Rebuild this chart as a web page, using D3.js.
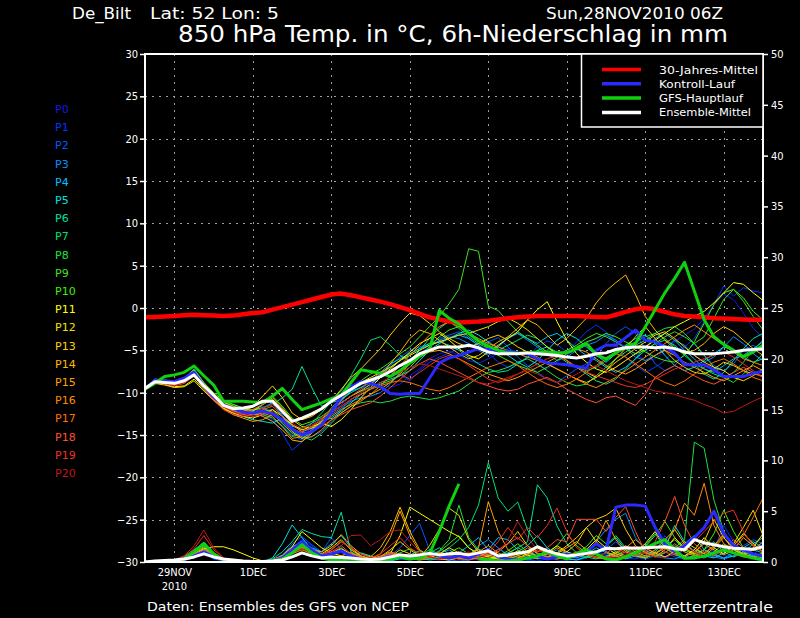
<!DOCTYPE html>
<html lang='en'>
<head>
<meta charset='utf-8'>
<title>De_Bilt GFS Ensemble</title>
<script src="https://d3js.org/d3.v7.min.js"></script>
<style type="text/css">
  body { margin: 0; background: #000; }
  svg { display: block; background: #000; }
  text { font-family: "DejaVu Sans", sans-serif; fill: #fff; }
  .small { font-family: "DejaVu Sans Condensed", "Liberation Sans Narrow", sans-serif; font-size: 11px; }
  .label { font-family: "DejaVu Sans", sans-serif; font-size: 11px; }
</style>
</head>
<body>
<script type='text/javascript'>
// forecast hours of the run 28NOV2010 06Z, every 6 h
var hours = d3.range(0, 379, 6);
var tickHours = [18, 66, 114, 162, 210, 258, 306, 354];
var tickLabels = ["29NOV", "1DEC", "3DEC", "5DEC", "7DEC", "9DEC", "11DEC", "13DEC"];

var memberNames = d3.range(0, 21).map(function(i) { return "P" + i; });
var memberColors = ["#1818e0", "#0034ff", "#0058ff", "#0090ff", "#00c0ff", "#00e0e0", "#00e0a0",
                    "#00e070", "#20e040", "#40e020", "#40f000", "#ffff00", "#f0e000", "#ffd000",
                    "#ffb800", "#ffa000", "#ff8c00", "#ff7000", "#ff5030", "#f03020", "#c01818"];

// 850 hPa temperature (deg C)
var climTemp = [-1.1,-1.05,-1.0,-0.95,-0.85,-0.8,-0.85,-0.9,
  -0.95,-0.9,-0.75,-0.6,-0.5,-0.2,0.1,0.4,
  0.7,1.0,1.3,1.6,1.7,1.5,1.25,1.0,
  0.75,0.45,0.1,-0.25,-0.7,-1.1,-1.35,-1.6,
  -1.7,-1.65,-1.6,-1.5,-1.35,-1.2,-1.1,-1.0,
  -0.95,-0.95,-0.95,-0.95,-0.95,-1.0,-1.05,-1.1,
  -0.8,-0.45,-0.15,0.0,-0.15,-0.45,-0.75,-0.95,
  -1.0,-1.1,-1.2,-1.25,-1.3,-1.35,-1.4,-1.4];

var meanTemp = [-9.5,-8.7,-8.8,-8.9,-8.6,-7.9,-9.2,-10.3,
  -11.5,-11.9,-11.8,-11.6,-11.0,-11.0,-12.2,-13.4,
  -13.0,-12.5,-11.9,-11.0,-10.3,-9.6,-8.9,-8.5,
  -8.1,-7.5,-6.8,-6.2,-5.4,-5.0,-4.6,-4.6,
  -4.6,-4.4,-4.7,-5.2,-5.4,-5.4,-5.4,-5.3,
  -5.4,-5.5,-5.6,-5.8,-5.9,-5.7,-5.4,-5.3,
  -4.9,-4.7,-4.6,-4.6,-4.7,-4.6,-4.8,-5.2,
  -5.4,-5.4,-5.4,-5.3,-5.2,-5.0,-4.9,-4.85];

var controlTemp = [-9.6,-8.5,-8.6,-8.7,-8.3,-7.6,-9.2,-10.5,
  -11.4,-11.9,-12.3,-12.4,-12.2,-12.5,-13.2,-14.3,
  -15.0,-14.6,-13.8,-12.3,-10.5,-9.3,-8.7,-8.9,
  -9.3,-10.1,-10.2,-10.1,-10.1,-8.3,-6.5,-5.9,
  -5.6,-5.2,-4.8,-4.9,-5.0,-5.1,-5.3,-5.4,
  -6.0,-6.5,-6.6,-6.7,-6.9,-7.1,-5.0,-4.4,
  -4.4,-3.5,-2.6,-3.8,-4.0,-4.6,-5.35,-6.7,
  -6.7,-6.7,-7.3,-8.1,-8.1,-8.1,-7.7,-7.5];

var gfsTemp = [-9.6,-8.9,-8.1,-7.9,-7.6,-6.85,-8.0,-9.1,
  -11.0,-11.0,-11.0,-11.1,-11.2,-10.4,-9.5,-10.8,
  -12.0,-11.6,-11.2,-10.7,-10.3,-8.8,-7.3,-7.5,
  -7.7,-8.1,-7.4,-6.5,-5.7,-5.0,-0.3,-1.2,
  -1.9,-3.0,-3.9,-4.5,-5.0,-5.3,-5.35,-5.3,
  -5.2,-5.2,-5.3,-5.3,-4.8,-4.2,-5.5,-6.0,
  -5.3,-4.6,-4.2,-2.2,-0.2,1.8,3.5,5.4,
  2.0,-1.4,-3.4,-4.3,-5.0,-5.75,-5.2,-4.4];

var memberTemp = [
  [-9.6,-8.7,-8.8,-9.0,-8.6,-7.8,-9.2,-10.4, -11.3,-11.8,-12.0,-12.3,-12.0,-12.6,-13.4,-14.2,
   -14.8,-14.3,-13.6,-12.2,-11.0,-9.8,-9.0,-8.5, -8.8,-9.4,-9.0,-8.0,-7.2,-6.0,-5.4,-5.1,
   -5.6,-6.2,-6.5,-6.0,-5.4,-4.8,-5.2,-6.0, -6.8,-7.2,-6.4,-5.5,-4.9,-4.2,-3.5,-3.0,
   -3.8,-4.6,-5.4,-6.2,-6.0,-5.1,-4.0,-3.2, -2.5,-1.2,0.4,1.6,1.0,-0.6,-2.4,-3.5],
  [-9.6,-8.5,-8.6,-8.8,-8.4,-7.4,-9.0,-10.6, -11.6,-12.1,-12.4,-12.8,-12.6,-13.2,-14.8,-16.8,
   -15.8,-14.6,-13.6,-12.4,-11.4,-10.4,-9.6,-9.0, -8.2,-7.6,-7.9,-8.6,-7.4,-6.4,-5.8,-5.3,
   -4.8,-4.2,-4.6,-5.3,-6.4,-7.0,-6.6,-5.8, -4.6,-3.9,-4.3,-5.2,-4.0,-2.8,-2.0,-2.8,
   -4.4,-5.8,-6.8,-7.6,-7.0,-6.2,-5.0,-4.6, -3.6,-1.6,0.4,2.6,1.4,2.4,2.0,1.8],
  [-9.6,-8.8,-8.9,-9.1,-8.8,-8.0,-9.4,-10.6, -11.5,-12.0,-12.3,-12.1,-11.6,-12.4,-13.8,-15.0,
   -15.6,-15.2,-14.6,-13.4,-12.0,-10.8,-10.0,-9.2, -8.0,-6.8,-5.8,-5.0,-4.6,-4.2,-3.6,-3.2,
   -2.8,-3.6,-4.4,-4.0,-3.5,-4.6,-5.8,-6.8, -7.6,-8.4,-8.8,-8.0,-7.2,-6.6,-5.8,-4.2,
   -3.0,-2.2,-3.0,-4.8,-6.6,-7.4,-6.8,-5.4, -4.2,-5.6,-6.8,-7.4,-6.6,-5.0,-4.4,-5.2],
  [-9.6,-8.6,-8.7,-8.8,-8.5,-7.6,-9.1,-10.3, -11.2,-11.6,-11.9,-12.0,-11.4,-10.8,-12.6,-14.6,
   -15.4,-14.8,-13.8,-12.6,-11.8,-11.0,-10.6,-10.4, -10.0,-9.0,-7.6,-6.4,-5.4,-4.6,-3.8,-3.4,
   -3.6,-4.2,-5.0,-5.6,-4.6,-3.6,-3.0,-3.8, -4.6,-5.4,-6.2,-5.8,-5.0,-4.4,-4.0,-3.2,
   -3.8,-4.8,-5.8,-6.2,-5.6,-4.8,-3.8,-4.4, -5.6,-6.4,-5.8,-4.6,-3.4,-4.2,-5.4,-6.2],
  [-9.6,-8.4,-8.5,-8.7,-8.3,-7.2,-8.8,-10.2, -11.4,-12.2,-12.6,-12.4,-11.8,-11.2,-12.8,-14.0,
   -14.2,-13.6,-13.0,-12.4,-11.0,-9.8,-9.4,-8.6, -7.6,-6.6,-6.0,-5.4,-4.8,-4.4,-4.0,-3.6,
   -3.2,-3.6,-4.4,-5.2,-4.6,-3.4,-3.0,-3.6, -4.2,-3.4,-3.0,-3.8,-4.8,-5.6,-6.2,-7.0,
   -7.6,-7.0,-6.0,-4.6,-3.6,-3.0,-3.8,-5.0, -6.0,-7.2,-7.6,-6.8,-6.0,-5.6,-4.8,-4.0],
  [-9.6,-8.6,-8.6,-8.9,-8.7,-7.8,-9.4,-10.8, -11.8,-12.4,-12.8,-13.2,-13.4,-13.6,-13.0,-13.8,
   -14.6,-14.2,-13.4,-13.0,-12.2,-11.2,-10.2,-9.6, -8.8,-8.4,-8.0,-7.4,-6.2,-5.0,-4.2,-3.6,
   -3.0,-2.6,-3.2,-4.0,-4.8,-5.6,-6.4,-7.0, -6.2,-5.0,-3.8,-3.0,-3.6,-4.6,-5.6,-6.4,
   -5.4,-4.4,-3.6,-3.2,-4.2,-5.6,-6.8,-7.4, -7.0,-6.2,-5.4,-4.6,-5.0,-5.8,-6.4,-6.0],
  [-9.6,-8.5,-8.6,-8.8,-8.5,-7.6,-9.0,-10.4, -11.3,-11.8,-12.0,-12.1,-11.8,-11.4,-10.6,-9.6,
   -6.9,-9.4,-11.6,-11.2,-10.8,-10.0,-9.4,-8.8, -8.0,-7.0,-6.2,-5.4,-4.8,-4.2,-4.0,-4.4,
   -5.0,-5.8,-6.6,-7.2,-7.6,-7.4,-6.6,-5.8, -5.0,-4.6,-5.2,-6.2,-7.0,-7.8,-8.6,-9.0,
   -8.4,-7.2,-6.0,-5.0,-4.2,-3.8,-4.4,-5.4, -6.6,-7.8,-8.4,-7.6,-6.2,-4.8,-3.6,-3.0],
  [-9.6,-8.5,-8.6,-8.8,-8.4,-7.5,-8.9,-10.2, -11.0,-11.4,-11.8,-12.2,-12.6,-13.0,-14.0,-15.2,
   -14.8,-13.6,-12.4,-11.0,-9.8,-8.0,-6.0,-3.8, -3.4,-4.4,-5.6,-6.2,-5.0,-3.6,-2.4,-1.6,
   -2.4,-3.4,-4.2,-4.8,-5.0,-4.4,-3.8,-3.2, -3.6,-4.6,-5.6,-6.4,-7.0,-7.4,-7.0,-6.2,
   -5.4,-4.6,-4.0,-3.4,-3.0,-3.6,-4.6,-5.6, -6.6,-7.2,-7.8,-8.2,-7.6,-6.4,-5.0,-3.8],
  [-9.6,-8.7,-8.8,-8.9,-8.6,-7.7,-9.2,-10.6, -11.6,-12.2,-12.4,-12.6,-12.2,-12.0,-13.2,-14.4,
   -15.2,-15.6,-14.8,-13.6,-12.4,-11.6,-11.2,-11.0, -11.2,-11.0,-10.6,-10.4,-10.6,-10.8,-10.6,-10.2,
   -9.8,-9.0,-8.2,-7.6,-7.4,-7.0,-6.4,-6.0, -6.6,-7.4,-8.2,-8.8,-9.2,-9.0,-8.0,-7.0,
   -6.0,-5.2,-4.4,-3.8,-3.0,-2.4,-2.2,-3.0, -4.2,-5.6,-7.0,-8.2,-8.8,-7.8,-6.6,-5.4],
  [-9.6,-8.6,-8.7,-8.9,-8.5,-7.6,-9.0,-10.3, -11.2,-11.6,-11.9,-12.0,-11.8,-12.4,-13.6,-14.8,
   -15.4,-14.6,-13.2,-11.8,-10.6,-9.6,-8.6,-7.8, -7.2,-6.4,-5.4,-4.6,-3.4,-2.2,-1.0,0.5,
   2.2,7.0,6.7,0.2,-0.3,-1.6,-2.8,-3.6, -4.4,-5.2,-5.6,-5.0,-4.4,-3.6,-3.0,-3.4,
   -4.0,-4.8,-5.4,-5.0,-4.2,-3.4,-2.8,-3.4, -4.2,-3.4,-1.2,1.0,2.2,0.8,-1.0,-2.6],
  [-9.6,-8.5,-8.5,-8.7,-8.3,-7.3,-8.8,-10.0, -10.9,-11.4,-11.8,-11.6,-11.0,-10.4,-11.6,-13.0,
   -13.8,-13.4,-12.8,-12.0,-11.2,-10.4,-9.8,-9.4, -9.0,-8.6,-8.0,-7.0,-5.8,-4.6,-3.4,-2.6,
   -2.2,-2.8,-3.8,-4.8,-5.6,-6.2,-6.8,-7.2, -7.6,-7.0,-6.2,-5.4,-4.6,-4.0,-3.6,-3.0,
   -3.4,-4.0,-4.6,-5.2,-5.8,-6.2,-6.4,-5.6, -4.0,-1.8,0.4,1.8,2.2,1.2,-0.4,-1.4],
  [-9.6,-8.8,-9.0,-9.3,-9.2,-8.4,-9.6,-10.8, -11.8,-12.4,-12.8,-13.0,-12.6,-12.0,-12.8,-13.8,
   -14.4,-14.0,-13.6,-14.0,-13.2,-12.0,-10.6,-9.4, -8.2,-7.2,-6.2,-5.2,-4.2,-3.6,-3.0,-3.8,
   -4.8,-5.6,-6.0,-5.2,-4.4,-3.6,-2.8,-1.4, -0.2,0.75,-1.6,-3.8,-5.4,-6.4,-7.2,-7.6,
   -7.0,-6.2,-5.4,-4.6,-3.8,-3.0,-2.2,-1.6, -1.0,-0.4,0.6,1.8,3.0,2.8,1.8,0.9],
  [-9.6,-8.9,-9.1,-9.4,-9.3,-8.6,-9.8,-10.9, -11.9,-12.4,-12.6,-12.2,-11.4,-10.6,-11.8,-13.2,
   -14.0,-14.2,-13.8,-12.4,-10.8,-9.6,-8.8,-8.2, -7.6,-7.0,-6.2,-5.6,-5.0,-4.4,-4.0,-3.6,
   -3.2,-3.0,-2.6,-2.2,-1.6,-1.2,-1.8,-2.6, -3.6,-4.6,-5.4,-6.2,-7.0,-7.6,-8.2,-7.4,
   -6.0,-4.8,-3.4,-2.2,-3.6,-5.0,-6.2,-7.0, -7.6,-7.8,-7.2,-6.4,-6.8,-7.4,-7.8,-8.0],
  [-9.6,-8.7,-8.8,-9.0,-8.6,-7.8,-9.3,-10.7, -11.7,-12.2,-12.3,-11.6,-10.4,-9.2,-10.6,-12.4,
   -13.2,-12.8,-12.0,-11.0,-9.6,-8.2,-7.2,-6.0, -4.8,-3.2,-1.8,-0.6,-0.9,-1.8,-2.8,-3.6,
   -4.2,-4.6,-4.2,-3.6,-3.2,-3.8,-4.6,-5.2, -5.8,-6.6,-7.2,-7.8,-8.4,-8.8,-8.2,-7.4,
   -6.4,-5.6,-4.8,-4.0,-3.2,-2.8,-3.6,-4.6, -5.6,-6.4,-7.0,-7.4,-8.2,-8.6,-8.0,-7.2],
  [-9.6,-8.6,-8.7,-8.9,-8.4,-7.4,-8.9,-10.2, -11.1,-11.6,-12.0,-12.4,-12.8,-13.4,-14.4,-15.6,
   -15.8,-14.8,-13.4,-12.0,-11.2,-10.4,-9.8,-9.0, -8.0,-6.6,-5.2,-3.6,-2.6,-3.0,-3.8,-4.6,
   -5.4,-6.0,-5.6,-4.8,-4.0,-3.4,-2.4,-1.4, -2.0,-3.2,-4.4,-3.6,-2.4,-1.2,0.6,2.0,
   3.0,3.9,1.6,-1.0,-2.6,-3.8,-4.8,-5.4, -5.0,-4.2,-3.0,-2.2,-2.8,-3.8,-4.8,-5.6],
  [-9.6,-8.8,-8.9,-9.1,-8.8,-7.9,-9.4,-10.8, -11.9,-12.6,-13.0,-13.4,-13.2,-12.6,-13.4,-14.6,
   -15.4,-15.2,-14.4,-13.2,-12.4,-11.6,-11.0,-10.2, -9.6,-8.8,-7.8,-6.6,-5.8,-5.2,-5.0,-5.4,
   -6.0,-6.6,-7.2,-7.8,-8.2,-8.6,-8.2,-7.6, -7.0,-6.4,-5.8,-5.2,-4.8,-5.2,-6.0,-6.8,
   -7.4,-7.8,-7.2,-6.4,-5.6,-5.0,-5.6,-6.4, -7.0,-7.6,-8.2,-8.6,-8.0,-7.4,-6.8,-7.4],
  [-9.6,-8.7,-8.8,-9.1,-8.7,-7.7,-9.1,-10.5, -11.5,-12.0,-12.4,-12.6,-12.4,-12.8,-14.0,-15.4,
   -15.2,-14.4,-13.6,-12.8,-12.0,-11.4,-10.8,-10.2, -9.2,-8.0,-6.8,-5.6,-4.4,-3.2,-2.2,-1.6,
   -2.2,-3.0,-3.6,-4.2,-4.6,-5.0,-5.4,-5.8, -6.2,-6.6,-7.2,-7.8,-8.4,-9.0,-9.4,-8.8,
   -8.2,-7.4,-6.6,-5.8,-5.0,-4.2,-3.4,-2.6, -2.0,-2.8,-3.6,-4.4,-5.2,-6.0,-6.4,-6.8],
  [-9.6,-8.6,-8.8,-9.0,-8.6,-7.6,-9.0,-10.4, -11.4,-11.9,-12.2,-12.0,-11.4,-10.8,-12.2,-13.8,
   -14.6,-14.0,-13.2,-12.4,-11.6,-10.8,-10.2,-9.6, -9.2,-8.8,-8.6,-8.8,-9.2,-9.6,-9.8,-9.4,
   -8.8,-8.2,-7.6,-7.0,-6.6,-6.2,-6.8,-7.6, -8.4,-9.0,-9.4,-9.0,-8.4,-7.6,-6.8,-6.0,
   -5.4,-5.8,-6.6,-7.4,-8.2,-8.8,-9.2,-8.6, -7.8,-7.0,-6.4,-6.0,-6.6,-7.4,-8.2,-8.6],
  [-9.6,-8.8,-9.0,-9.2,-8.9,-8.0,-9.5,-10.9, -12.0,-12.6,-12.8,-12.6,-12.0,-11.6,-12.8,-14.2,
   -14.8,-14.6,-14.0,-13.2,-12.6,-12.0,-11.6,-11.2, -10.4,-9.4,-8.4,-7.4,-6.6,-6.0,-6.4,-7.0,
   -7.6,-8.2,-8.8,-9.2,-9.6,-9.8,-9.6,-9.0, -8.6,-8.2,-8.8,-9.6,-10.2,-10.8,-11.2,-10.6,
   -10.4,-11.0,-11.5,-10.2,-8.2,-7.4,-6.8,-7.4, -8.0,-8.6,-9.0,-8.4,-7.6,-7.0,-7.6,-8.2],
  [-9.6,-8.7,-8.9,-9.1,-8.7,-7.8,-9.2,-10.6, -11.6,-12.2,-12.6,-12.8,-12.6,-12.2,-13.2,-14.4,
   -14.6,-14.0,-13.0,-12.0,-11.2,-10.4,-9.6,-8.6, -7.8,-7.4,-7.8,-8.4,-7.6,-6.8,-6.0,-5.6,
   -6.0,-6.8,-7.6,-8.4,-8.8,-8.4,-7.8,-7.2, -6.6,-6.0,-5.6,-6.2,-7.0,-7.6,-8.0,-8.4,
   -8.8,-9.2,-9.4,-9.0,-8.4,-7.8,-7.2,-6.8, -6.4,-6.0,-5.6,-5.2,-5.8,-6.6,-7.4,-8.2],
  [-9.6,-8.8,-8.9,-9.2,-8.8,-7.9,-9.3,-10.7, -11.7,-12.3,-12.7,-12.4,-11.8,-11.4,-12.4,-13.6,
   -14.2,-13.8,-13.2,-12.4,-11.6,-10.8,-10.0,-9.4, -8.8,-8.2,-7.6,-7.0,-6.6,-6.8,-7.2,-7.6,
   -8.0,-8.4,-8.8,-9.0,-8.6,-8.2,-7.8,-7.4, -7.8,-8.4,-8.8,-8.4,-7.8,-7.2,-6.8,-7.4,
   -8.0,-8.6,-9.0,-9.4,-9.8,-10.0,-10.2,-10.6, -10.9,-11.4,-11.8,-12.4,-12.2,-11.6,-11.0,-10.5]
];

// 6 h precipitation (mm)
var meanPrecip = [0,0.1,0.15,0.2,0.3,0.5,0.8,0.5,
  0.3,0.2,0.1,0.05,0.05,0.1,0.2,0.5,
  0.9,0.6,0.4,0.5,0.45,0.4,0.3,0.25,
  0.3,0.5,0.7,0.6,0.7,0.85,0.7,0.8,
  0.85,0.7,0.9,1.1,0.6,0.7,0.85,1.0,
  1.5,1.1,0.8,0.6,0.7,0.85,1.0,1.35,
  1.3,1.4,1.35,1.4,1.45,1.5,1.3,1.2,
  2.2,1.9,1.7,1.5,1.35,1.3,1.25,1.5];

var controlPrecip = [0,0,0,0.1,0.2,0.6,1.0,0.5,
  0.2,0.1,0,0,0,0.1,0.4,1.2,
  2.0,1.2,0.6,0.8,1.1,0.6,0.3,0.2,
  0.3,0.6,0.4,0.3,0.5,0.9,0.6,0.4,
  0.6,0.4,0.8,1.2,0.5,0.3,0.2,0.4,
  0.6,0.3,0.5,0.8,0.6,1.0,1.8,1.2,
  5.4,5.6,5.6,5.5,3.4,1.8,1.0,1.6,
  2.4,3.4,5.0,2.8,1.6,1.2,0.8,0.6];

var gfsPrecip = [0,0,0,0.1,0.3,1.0,1.84,0.8,
  0.2,0.05,0,0,0,0.1,0.3,0.9,
  1.7,0.9,0.4,0.2,0.2,0.3,0.2,0.1,
  0.2,0.3,0.5,0.3,0.4,0.8,3.0,5.5,
  7.7,null,0.3,0.2,0.1,0.1,0.2,0.4,
  0.6,1.0,0.6,0.3,0.8,1.2,0.8,0.3,
  0.2,0.5,0.9,1.4,1.8,2.2,1.2,0.36,
  0.4,0.6,0.9,1.2,0.9,0.6,0.4,0.2];

var memberPrecip = [
  [0,0,0,0.1,0.2,0.5,0.9,0.4, 0.1,0,0,0,0,0.1,0.4,1.1, 1.6,0.9,0.5,0.7,0.9,0.4,0.2,0.1, 0.2,0.4,0.3,0.2,0.6,1.0,0.7,0.4,
   0.3,0.5,0.8,1.2,0.6,0.3,0.2,0.5, 0.8,0.4,0.2,0.1,0.3,0.6,1.0,0.7, 0.5,0.9,1.4,1.0,0.6,0.4,0.8,1.6, 2.4,1.8,1.1,0.7,0.5,0.9,1.4,1.0],
  [0,0,0,0.1,0.3,0.6,1.1,0.5, 0.2,0,0,0,0,0.2,0.5,1.4, 2.2,1.6,0.8,0.5,0.3,0.2,0.1,0.1, 0.2,0.3,0.5,0.8,0.5,0.3,0.2,0.4,
   0.7,0.4,0.2,0.6,1.3,0.8,0.4,0.2, 0.1,0.3,0.6,0.4,0.2,0.5,0.9,1.4, 0.8,0.4,0.3,0.6,1.0,2.6,1.4,0.6, 0.3,0.5,1.2,3.6,2.0,1.0,0.6,2.0],
  [0,0,0,0,0.2,0.4,0.8,0.3, 0.1,0,0,0,0,0.1,0.6,1.8, 2.5,1.7,1.0,2.4,1.2,0.6,0.3,0.2, 0.3,0.6,1.4,2.6,3.8,1.2,0.4,0.2,
   0.1,0.2,0.5,0.9,0.4,0.2,0.3,0.6, 1.0,1.4,0.7,0.3,0.2,0.4,0.8,1.2, 2.0,1.0,0.5,0.3,0.6,1.0,0.5,0.3, 0.6,1.2,0.8,0.4,0.9,1.6,2.2,1.8],
  [0,0,0,0.1,0.2,0.5,1.0,0.6, 0.2,0.05,0,0,0,0.1,0.3,0.9, 1.4,1.0,0.6,0.4,0.3,0.2,0.2,0.3, 0.5,0.9,0.6,0.3,0.2,0.4,0.8,1.2,
   0.7,0.4,1.6,2.2,1.4,0.6,0.3,0.2, 0.4,0.7,1.2,0.8,0.5,1.0,2.0,3.2, 4.2,4.8,2.4,1.2,0.6,0.4,0.3,0.6, 1.2,0.8,0.5,0.3,0.6,1.0,0.7,0.5],
  [0,0,0,0.1,0.3,0.7,1.3,0.6, 0.2,0,0,0,0,0.2,0.7,1.5, 2.0,1.4,1.0,1.8,2.6,1.4,0.6,0.3, 0.2,0.1,0.3,0.6,0.4,0.2,0.3,0.6,
   0.9,1.6,2.4,1.2,2.4,2.2,1.2,0.6, 0.3,0.5,0.9,0.6,0.4,0.8,1.4,0.9, 0.5,0.3,0.6,1.1,0.8,0.5,0.9,1.8, 2.6,1.2,0.7,0.4,0.6,1.4,2.0,1.4],
  [0,0,0,0.2,0.5,1.0,1.6,0.8, 0.3,0.1,0,0,0,0.4,1.8,3.65, 2.4,1.2,0.6,0.4,0.3,0.5,0.9,0.6, 0.3,0.2,0.4,0.7,1.1,0.6,0.3,0.2,
   0.4,0.8,1.3,0.7,0.4,0.6,1.0,1.6, 2.6,1.4,0.7,0.3,0.2,0.5,1.0,1.6, 2.4,1.2,0.6,0.4,0.8,1.4,3.6,2.0, 1.0,0.6,0.4,0.9,1.6,1.0,0.6,0.4],
  [0,0,0,0.2,0.6,1.2,1.9,0.9, 0.3,0.1,0,0,0,0.3,1.0,2.0, 3.2,2.8,2.5,2.4,4.9,1.0,0.3,0.2, 0.1,0.2,0.4,0.3,0.5,0.9,1.4,0.8,
   0.4,0.2,0.5,1.0,0.6,0.9,1.4,2.0, 7.6,6.3,3.55,1.8,0.9,0.5,0.3,0.6, 1.0,0.6,0.9,1.6,2.8,1.4,0.7,0.4, 0.6,1.2,2.0,1.0,0.5,0.9,1.8,2.4],
  [0,0,0,0.1,0.3,0.8,1.4,0.7, 0.2,0,0,0,0,0.1,0.5,1.2, 1.8,1.1,0.6,0.9,1.4,0.7,0.3,0.2, 0.4,0.7,0.5,0.3,0.6,1.2,0.8,1.4,
   2.2,3.4,5.6,9.8,6.3,5.0,5.9,3.15, 1.6,0.8,0.4,0.3,0.6,1.0,0.7,0.4, 0.3,0.6,1.1,0.8,0.5,0.9,1.6,1.0, 0.6,0.4,0.8,1.4,0.9,0.5,0.4,0.7],
  [0,0,0,0.1,0.2,0.6,1.2,0.6, 0.2,0,0,0,0,0.1,0.4,1.0, 1.5,0.9,0.5,0.3,0.6,1.0,0.5,0.3, 0.2,0.4,0.8,0.5,0.3,0.6,1.1,2.2,
   5.6,2.4,1.2,0.6,0.4,0.8,1.4,0.9, 0.5,0.3,0.6,1.0,0.7,0.4,0.9,1.6, 2.6,1.4,0.8,0.5,1.0,2.0,1.4,2.2, 11.8,11.2,6.1,3.0,1.4,0.8,1.2,0.9],
  [0,0,0,0.1,0.4,0.9,1.5,0.7, 0.3,0.1,0,0,0,0.2,0.6,1.3, 1.9,1.2,0.7,0.5,0.4,0.3,0.2,0.2, 0.3,0.5,0.9,1.3,0.8,0.5,1.0,1.8,
   2.6,1.4,0.7,0.4,0.3,0.6,1.0,0.6, 0.4,0.9,1.6,2.8,1.6,0.9,0.5,0.3, 0.6,1.2,0.7,0.4,0.8,1.4,2.2,1.2, 0.7,0.5,1.0,1.8,1.2,0.8,0.5,0.3],
  [0,0,0,0.1,0.3,0.7,1.2,0.6, 0.2,0,0,0,0,0.1,0.4,0.9, 1.3,0.8,0.5,0.3,0.4,0.6,0.4,0.2, 0.1,0.3,0.6,0.4,0.2,0.3,0.5,0.9,
   1.4,0.8,0.5,0.3,0.6,1.1,1.8,1.0, 0.6,0.4,0.3,0.5,0.9,1.5,2.6,1.8, 1.0,0.6,0.9,1.5,2.6,4.0,2.4,1.2, 0.8,1.2,2.8,5.1,3.0,1.4,0.8,0.5],
  [0,0,0,0.1,0.3,0.6,1.3,1.5, 1.5,1.2,0.8,0.4,0.1,0.2,0.6,1.5, 3.0,2.2,1.4,0.9,0.6,0.4,0.3,0.2, 0.4,0.8,2.6,5.4,4.8,4.2,3.6,3.0,
   2.5,1.4,0.8,0.5,0.3,0.6,1.1,0.7, 0.4,0.9,1.6,1.0,0.6,1.2,2.2,1.4, 0.8,0.5,1.0,1.8,3.0,1.6,0.9,0.6, 1.2,2.4,1.4,0.8,1.6,2.8,1.8,1.0],
  [0,0,0,0.1,0.2,0.5,1.0,0.5, 0.2,0,0,0,0,0.1,0.5,1.2, 2.0,1.3,0.8,1.4,2.2,1.2,0.6,0.3, 0.2,0.5,1.2,0.8,0.4,1.6,3.2,5.3,
   4.6,2.2,1.0,0.5,0.3,0.2,0.4,0.8, 1.4,0.8,0.5,1.0,1.8,3.4,2.0,1.0, 0.6,0.4,0.8,1.4,0.9,0.5,1.0,2.0, 1.4,0.8,1.6,2.6,1.8,3.4,5.1,2.6],
  [0,0,0,0.1,0.3,0.6,1.1,0.6, 0.2,0,0,0,0,0.1,0.4,1.0, 1.6,1.0,0.6,0.9,1.3,0.8,0.4,0.2, 0.5,1.2,2.0,1.2,0.6,0.4,0.8,1.4,
   0.9,0.5,0.3,0.6,1.0,1.8,3.0,1.6, 0.8,0.5,0.9,1.6,2.4,3.4,4.2,4.6, 5.3,3.2,1.6,0.9,0.5,1.2,2.4,1.4, 0.8,2.0,4.2,2.4,1.2,0.7,1.4,2.8],
  [0,0,0,0.1,0.2,0.5,0.9,0.5, 0.2,0,0,0,0,0.2,0.6,1.3, 1.8,1.2,1.0,1.6,2.7,1.6,0.8,0.5, 1.4,3.0,5.4,3.0,1.2,0.6,0.3,0.2,
   0.4,0.8,1.2,0.7,0.4,0.3,0.6,1.0, 0.6,0.4,0.8,1.4,2.0,1.2,0.7,0.5, 0.9,1.6,1.0,0.6,1.2,2.2,3.2,1.8, 1.0,0.6,1.4,2.4,1.4,0.8,0.5,0.9],
  [0,0,0,0.1,0.3,0.8,1.4,0.7, 0.2,0,0,0,0,0.2,0.5,1.1, 1.5,1.0,0.7,1.2,2.0,1.4,0.6,0.3, 0.8,2.4,5.0,2.6,1.0,0.5,0.3,0.6,
   1.0,0.6,1.4,5.95,3.0,1.2,0.6,0.4, 0.4,0.8,1.4,0.9,0.5,0.8,2.0,4.1, 2.2,1.0,0.6,0.4,0.9,1.4,0.8,0.5, 1.0,1.8,1.2,0.7,1.2,2.4,1.6,1.0],
  [0,0,0,0.1,0.2,0.6,1.0,0.5, 0.2,0,0,0,0,0.1,0.3,0.8, 1.2,0.8,0.5,0.4,0.6,0.9,0.5,0.3, 0.6,1.0,0.7,0.4,0.3,0.6,0.9,0.5,
   0.3,0.6,1.0,1.6,0.9,0.5,0.3,0.7, 1.2,0.8,0.5,0.3,0.6,1.1,0.7,0.4, 0.8,1.4,2.2,1.4,0.8,1.6,3.2,5.8, 4.6,7.75,3.6,1.8,0.9,0.6,1.2,2.0],
  [0,0,0,0.1,0.3,0.7,1.2,0.6, 0.2,0,0,0,0,0.1,0.4,1.0, 1.4,0.9,0.6,0.8,1.2,0.7,0.4,0.3, 0.5,0.8,0.5,0.3,0.5,0.8,0.5,0.3,
   0.5,0.9,0.6,1.0,0.6,0.4,0.8,1.4, 0.9,0.5,0.3,0.6,1.0,0.7,0.4,0.3, 0.6,1.0,1.6,1.0,0.6,0.9,1.8,1.0, 0.6,0.9,1.6,2.8,1.6,2.6,4.4,6.3],
  [0,0,0,0.1,0.4,1.0,1.8,0.9, 0.3,0.1,0,0,0,0.2,0.6,1.4, 1.9,1.2,0.7,1.0,1.6,0.8,0.4,0.2, 0.4,0.9,0.6,0.3,0.2,0.5,0.9,0.5,
   0.3,0.2,0.4,0.8,1.2,1.8,2.4,1.6, 1.0,1.4,2.2,2.0,4.2,4.2,4.2,3.0, 4.4,5.45,3.0,1.0,2.0,4.0,6.45,3.6, 1.8,1.0,0.6,1.2,2.2,1.4,0.8,0.5],
  [0,0,0,0.1,0.5,1.3,2.6,1.2, 0.4,0.1,0,0,0,0.2,0.5,1.2, 1.6,1.0,0.7,1.2,2.0,1.4,0.8,0.4, 0.8,1.6,2.4,1.4,0.8,0.5,0.3,0.6,
   1.0,0.6,0.4,0.9,2.0,3.4,2.2,3.4, 2.4,3.6,5.3,3.0,1.4,0.8,0.5,0.9, 1.4,0.9,0.6,1.0,1.6,1.0,0.7,1.2, 2.0,3.0,4.0,4.8,5.1,3.0,1.6,1.0],
  [0,0,0,0.2,0.6,1.6,3.15,1.4, 0.4,0.1,0,0,0,0.1,0.4,0.9, 1.3,0.9,0.6,0.9,1.6,2.6,2.65,1.6, 2.2,3.0,3.15,2.0,1.0,0.5,0.3,0.4,
   0.7,1.0,0.6,0.4,0.9,2.2,4.0,2.4, 1.2,0.8,0.5,0.4,0.7,1.2,0.8,0.5, 0.4,0.7,1.2,0.8,0.5,0.4,0.9,1.6, 1.0,0.6,0.9,1.4,0.8,0.5,0.4,0.6]
];

var legendNames = ["30-Jahres-Mittel", "Kontroll-Lauf", "GFS-Hauptlauf", "Ensemble-Mittel"];
var legendColors = ["#ff0000", "#2a2aff", "#10d010", "#ffffff"];
var legendWidths = [99, 76, 84, 92];

//Width and height
var w = 800, h = 618;
var pL = 145, pR = 763, pT = 54, pB = 562;

var svg = d3.select("body").append("svg")
            .attr("width", w)
            .attr("height", h);

var x = d3.scaleLinear().domain([0, 378]).range([pL, pR]);
var yT = d3.scaleLinear().domain([-30, 30]).range([pB, pT]);
var yP = d3.scaleLinear().domain([0, 50]).range([pB, pT]);

//Grid
svg.append("g").selectAll("line")
   .data(d3.range(-25, 26, 5))
   .enter().append("line")
   .attr("x1", pL).attr("x2", pR)
   .attr("y1", function(d) { return Math.round(yT(d)) + 0.5; })
   .attr("y2", function(d) { return Math.round(yT(d)) + 0.5; })
   .attr("stroke", "#a0a0a0").attr("stroke-dasharray", "2,5");
svg.append("g").selectAll("line")
   .data(tickHours)
   .enter().append("line")
   .attr("x1", function(d) { return Math.round(x(d)) + 0.5; })
   .attr("x2", function(d) { return Math.round(x(d)) + 0.5; })
   .attr("y1", pT).attr("y2", pB)
   .attr("stroke", "#a0a0a0").attr("stroke-dasharray", "2,5");

//Data lines
svg.append("clipPath").attr("id", "plot")
   .append("rect").attr("x", pL).attr("y", pT)
   .attr("width", pR - pL).attr("height", pB - pT);
var plot = svg.append("g").attr("clip-path", "url(#plot)");

var lineT = d3.line()
              .defined(function(d) { return d !== null; })
              .x(function(d, i) { return x(hours[i]); })
              .y(function(d) { return yT(d); });
var lineP = d3.line()
              .defined(function(d) { return d !== null; })
              .x(function(d, i) { return x(hours[i]); })
              .y(function(d) { return yP(d); });

memberTemp.forEach(function(s, k) {
  plot.append("path").attr("d", lineT(s)).attr("fill", "none")
      .attr("stroke", memberColors[k]).attr("stroke-width", 1);
});
memberPrecip.forEach(function(s, k) {
  plot.append("path").attr("d", lineP(s)).attr("fill", "none")
      .attr("stroke", memberColors[k]).attr("stroke-width", 1);
});

function thick(path, color, width) {
  plot.append("path").attr("d", path).attr("fill", "none")
      .attr("stroke", color).attr("stroke-width", width)
      .attr("stroke-linejoin", "round");
}
thick(lineT(climTemp), legendColors[0], 4.5);
thick(lineT(controlTemp), legendColors[1], 3);
thick(lineP(controlPrecip), legendColors[1], 3);
thick(lineT(gfsTemp), legendColors[2], 3);
thick(lineP(gfsPrecip), legendColors[2], 3);
thick(lineT(meanTemp), legendColors[3], 3);
thick(lineP(meanPrecip), legendColors[3], 3);

//Frame
svg.append("rect").attr("x", pL).attr("y", pT)
   .attr("width", pR - pL).attr("height", pB - pT)
   .attr("fill", "none").attr("stroke", "#fff").attr("stroke-width", 2);

//Axes
var axL = svg.append("g").attr("transform", "translate(" + pL + ",0)")
             .call(d3.axisLeft(yT).tickValues(d3.range(-30, 31, 5)).tickSize(5).tickPadding(2));
var axR = svg.append("g").attr("transform", "translate(" + pR + ",0)")
             .call(d3.axisRight(yP).tickValues(d3.range(0, 51, 5)).tickSize(5).tickPadding(3));
var axB = svg.append("g").attr("transform", "translate(0," + pB + ")")
             .call(d3.axisBottom(x).tickValues(tickHours)
                     .tickFormat(function(d, i) { return tickLabels[i]; })
                     .tickSize(0).tickPadding(6));
[axL, axR, axB].forEach(function(a) {
  a.select(".domain").remove();
  a.selectAll("line").attr("stroke", "#fff").attr("stroke-width", 1.5);
  a.selectAll("text").attr("fill", "#fff").attr("class", "small")
   .attr("font-family", null).attr("font-size", null);
});
axB.append("text").attr("class", "small").attr("x", x(tickHours[0])).attr("y", 27.5)
   .attr("text-anchor", "middle").text("2010");

//Member legend
svg.append("g").selectAll("text")
   .data(memberNames)
   .enter().append("text")
   .attr("class", "label")
   .attr("x", 55)
   .attr("y", function(d, i) { return 113 + i * 18.2; })
   .style("fill", function(d, i) { return memberColors[i]; })
   .text(function(d) { return d; });

//Line legend
svg.append("rect").attr("x", 581.5).attr("y", pT)
   .attr("width", pR - 581.5).attr("height", 73)
   .attr("fill", "#000").attr("stroke", "#fff").attr("stroke-width", 1.5);
var lg = svg.append("g").selectAll("g")
            .data(legendNames)
            .enter().append("g")
            .attr("transform", function(d, i) { return "translate(0," + (69.5 + i * 14.3) + ")"; });
lg.append("line").attr("x1", 602).attr("x2", 641)
  .attr("stroke", function(d, i) { return legendColors[i]; })
  .attr("stroke-width", 3.5);
lg.append("text").attr("class", "label").attr("x", 659).attr("y", 4)
  .attr("textLength", function(d, i) { return legendWidths[i]; })
  .attr("lengthAdjust", "spacingAndGlyphs")
  .text(function(d) { return d; });

//Titles
svg.append("text").attr("x", 72).attr("y", 19).attr("font-size", 16)
   .attr("textLength", 59).attr("lengthAdjust", "spacingAndGlyphs").text("De_Bilt");
svg.append("text").attr("x", 150).attr("y", 19).attr("font-size", 16)
   .attr("textLength", 129).attr("lengthAdjust", "spacingAndGlyphs").text("Lat: 52 Lon: 5");
svg.append("text").attr("x", 546).attr("y", 19).attr("font-size", 16)
   .attr("textLength", 177).attr("lengthAdjust", "spacingAndGlyphs").text("Sun,28NOV2010 06Z");
svg.append("text").attr("x", 178).attr("y", 41.5).attr("font-size", 23)
   .attr("textLength", 550).attr("lengthAdjust", "spacingAndGlyphs")
   .text("850 hPa Temp. in \u00B0C, 6h-Niederschlag in mm");
svg.append("text").attr("x", 147).attr("y", 611).attr("font-size", 12)
   .attr("textLength", 262).attr("lengthAdjust", "spacingAndGlyphs")
   .text("Daten: Ensembles des GFS von NCEP");
svg.append("text").attr("x", 655).attr("y", 612).attr("font-size", 14)
   .attr("textLength", 118).attr("lengthAdjust", "spacingAndGlyphs")
   .text("Wetterzentrale");
</script>
</body>
</html>
